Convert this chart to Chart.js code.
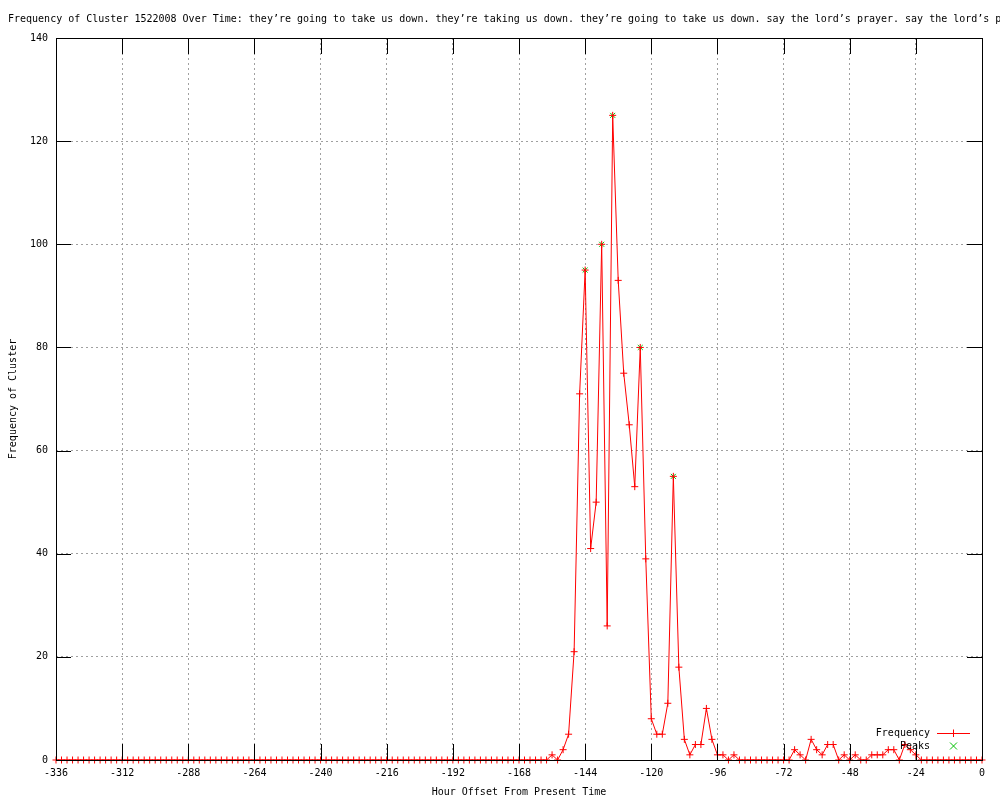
<!DOCTYPE html>
<html>
<head>
<meta charset="utf-8">
<script src="https://cdn.jsdelivr.net/npm/chart.js@4.4.1/dist/chart.umd.min.js"></script>
<style>
    html, body { margin: 0; padding: 0; background: #fff; }
    canvas { display: block; }
</style>
</head>
<body>
<canvas id="cluster-chart" width="1000" height="800"></canvas>
<script>
const chartTitle = 'Frequency of Cluster 1522008 Over Time: they\u2019re going to take us down. they\u2019re taking us down. they\u2019re going to take us down. say the lord\u2019s prayer. say the lord\u2019s prayer.';

// hour offsets, one point every two hours
const hours = [
    -336, -334, -332, -330, -328, -326, -324, -322, -320, -318, -316, -314,
    -312, -310, -308, -306, -304, -302, -300, -298, -296, -294, -292, -290,
    -288, -286, -284, -282, -280, -278, -276, -274, -272, -270, -268, -266,
    -264, -262, -260, -258, -256, -254, -252, -250, -248, -246, -244, -242,
    -240, -238, -236, -234, -232, -230, -228, -226, -224, -222, -220, -218,
    -216, -214, -212, -210, -208, -206, -204, -202, -200, -198, -196, -194,
    -192, -190, -188, -186, -184, -182, -180, -178, -176, -174, -172, -170,
    -168, -166, -164, -162, -160, -158, -156, -154, -152, -150, -148, -146,
    -144, -142, -140, -138, -136, -134, -132, -130, -128, -126, -124, -122,
    -120, -118, -116, -114, -112, -110, -108, -106, -104, -102, -100, -98,
    -96, -94, -92, -90, -88, -86, -84, -82, -80, -78, -76, -74,
    -72, -70, -68, -66, -64, -62, -60, -58, -56, -54, -52, -50,
    -48, -46, -44, -42, -40, -38, -36, -34, -32, -30, -28, -26,
    -24, -22, -20, -18, -16, -14, -12, -10, -8, -6, -4, -2,
    0
];

const frequency = [
    0, 0, 0, 0, 0, 0, 0, 0, 0, 0, 0, 0,
    0, 0, 0, 0, 0, 0, 0, 0, 0, 0, 0, 0,
    0, 0, 0, 0, 0, 0, 0, 0, 0, 0, 0, 0,
    0, 0, 0, 0, 0, 0, 0, 0, 0, 0, 0, 0,
    0, 0, 0, 0, 0, 0, 0, 0, 0, 0, 0, 0,
    0, 0, 0, 0, 0, 0, 0, 0, 0, 0, 0, 0,
    0, 0, 0, 0, 0, 0, 0, 0, 0, 0, 0, 0,
    0, 0, 0, 0, 0, 0, 1, 0, 2, 5, 21, 71,
    95, 41, 50, 100, 26, 125, 93, 75, 65, 53, 80, 39,
    8, 5, 5, 11, 55, 18, 4, 1, 3, 3, 10, 4,
    1, 1, 0, 1, 0, 0, 0, 0, 0, 0, 0, 0,
    0, 0, 2, 1, 0, 4, 2, 1, 3, 3, 0, 1,
    0, 1, 0, 0, 1, 1, 1, 2, 2, 0, 3, 2,
    1, 0, 0, 0, 0, 0, 0, 0, 0, 0, 0, 0,
    0
];

const peakHours = [-144, -138, -134, -124, -112];
const peakValues = [95, 100, 125, 80, 55];

const RED = '#ff0000';
const GREEN = '#00c000';
const FONT = '"DejaVu Sans Mono", "Liberation Mono", monospace';

Chart.defaults.font.family = FONT;
Chart.defaults.font.size = 10;
Chart.defaults.color = '#000';

// gnuplot style frame: border box, inward ticks on all sides, title and key
const gnuplotFrame = {
    id: 'gnuplotFrame',
    afterDatasetsDraw(chart) {
        const { ctx, chartArea: a, scales: { x, y } } = chart;
        ctx.save();
        ctx.strokeStyle = '#000';
        ctx.lineWidth = 1;
        ctx.beginPath();
        x.ticks.forEach(t => {
            const px = Math.round(x.getPixelForValue(t.value)) + 0.5;
            ctx.moveTo(px, a.bottom);
            ctx.lineTo(px, a.bottom - 16);
            ctx.moveTo(px, a.top);
            ctx.lineTo(px, a.top + 16);
        });
        y.ticks.forEach(t => {
            const py = Math.round(y.getPixelForValue(t.value)) + 0.5;
            ctx.moveTo(a.left, py);
            ctx.lineTo(a.left + 15, py);
            ctx.moveTo(a.right, py);
            ctx.lineTo(a.right - 15, py);
        });
        ctx.stroke();
        ctx.strokeRect(a.left + 0.5, a.top + 0.5, a.right - a.left, a.bottom - a.top);
        ctx.restore();
    },
    afterDraw(chart) {
        const { ctx, chartArea: a } = chart;
        ctx.save();
        ctx.font = '10px ' + FONT;
        ctx.fillStyle = '#000';
        ctx.textBaseline = 'middle';
        ctx.textAlign = 'left';
        ctx.fillText(chartTitle, 8, 19);

        // key, bottom right inside the plot
        const keyRight = a.right - 52;
        const rowY = [a.bottom - 27, a.bottom - 14];
        ctx.textAlign = 'right';
        ctx.fillText('Frequency', keyRight, rowY[0]);
        ctx.fillText('Peaks', keyRight, rowY[1]);

        const sx = keyRight + 23.5;
        ctx.lineWidth = 1;
        ctx.strokeStyle = RED;
        ctx.beginPath();
        ctx.moveTo(keyRight + 7, rowY[0] + 0.5);
        ctx.lineTo(keyRight + 40, rowY[0] + 0.5);
        ctx.moveTo(sx, rowY[0] - 3.5);
        ctx.lineTo(sx, rowY[0] + 4);
        ctx.stroke();

        ctx.strokeStyle = GREEN;
        ctx.beginPath();
        ctx.moveTo(sx - 3.5, rowY[1] - 3.5);
        ctx.lineTo(sx + 3.5, rowY[1] + 3.5);
        ctx.moveTo(sx + 3.5, rowY[1] - 3.5);
        ctx.lineTo(sx - 3.5, rowY[1] + 3.5);
        ctx.stroke();
        ctx.restore();
    }
};

new Chart(document.getElementById('cluster-chart'), {
    type: 'line',
    data: {
        datasets: [
            {
                label: 'Frequency',
                data: hours.map((h, i) => ({ x: h, y: frequency[i] })),
                borderColor: RED,
                backgroundColor: RED,
                borderWidth: 1,
                tension: 0,
                pointStyle: 'cross',
                pointRadius: 3.5,
                pointBorderWidth: 1,
                pointBorderColor: RED,
                clip: false
            },
            {
                label: 'Peaks',
                data: peakHours.map((h, i) => ({ x: h, y: peakValues[i] })),
                showLine: false,
                borderColor: GREEN,
                backgroundColor: GREEN,
                pointStyle: 'crossRot',
                pointRadius: 3.5,
                pointBorderWidth: 1,
                clip: false
            }
        ]
    },
    options: {
        responsive: false,
        animation: false,
        events: [],
        layout: { padding: { top: 38, right: 18, left: 0, bottom: 0 } },
        plugins: {
            legend: { display: false },
            tooltip: { enabled: false },
            title: { display: false }
        },
        scales: {
            x: {
                type: 'linear',
                min: -336,
                max: 0,
                ticks: { stepSize: 24, autoSkip: false, maxRotation: 0, padding: 7 },
                grid: { color: '#a0a0a0', drawTicks: false },
                border: { display: false, dash: [2, 3] },
                title: {
                    display: true,
                    text: 'Hour Offset From Present Time',
                    padding: { top: 0, bottom: 2 }
                },
                afterFit(scale) { scale.height = 40; }
            },
            y: {
                min: 0,
                max: 140,
                ticks: { stepSize: 20, padding: 8 },
                grid: { color: '#a0a0a0', drawTicks: false },
                border: { display: false, dash: [2, 3] },
                title: {
                    display: true,
                    text: 'Frequency of Cluster',
                    padding: { top: 7, bottom: 0 }
                },
                afterFit(scale) { scale.width = 56; }
            }
        }
    },
    plugins: [gnuplotFrame]
});
</script>
</body>
</html>
